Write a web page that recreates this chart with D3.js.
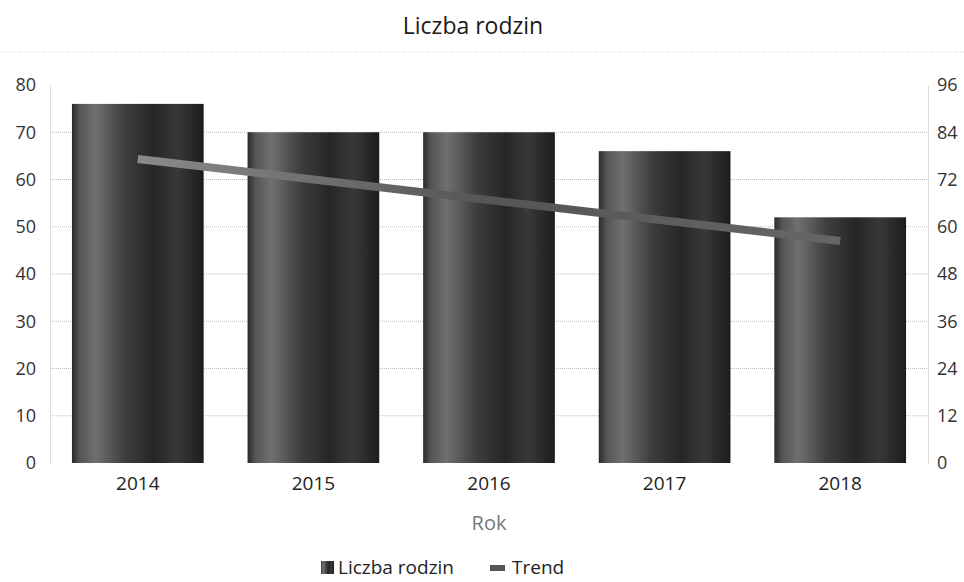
<!DOCTYPE html>
<html>
<head>
<meta charset="utf-8">
<script src="https://cdn.jsdelivr.net/npm/d3@7"></script>
<style>
  body { margin: 0; background: #fff; }
  text { font-family: "Open Sans", "Noto Sans", sans-serif; }
</style>
</head>
<body>
<div id="chart"></div>
<script>
var years = ["2014", "2015", "2016", "2017", "2018"];
var families = [76, 70, 70, 66, 52];
var trend = [77.2, 72.0, 66.8, 61.6, 56.4];   // read on right axis
var leftTicks = [0, 10, 20, 30, 40, 50, 60, 70, 80];
var rightTicks = [0, 12, 24, 36, 48, 60, 72, 84, 96];

var width = 964, height = 582;
var margin = { top: 85, right: 36, bottom: 119, left: 50 };

var svg = d3.select("#chart").append("svg")
    .attr("width", width)
    .attr("height", height);

var defs = svg.append("defs");
var grad = defs.append("linearGradient").attr("id", "barGrad")
    .attr("x1", "0").attr("x2", "1").attr("y1", "0").attr("y2", "0");
grad.append("stop").attr("offset", "0").attr("stop-color", "#2a2a2a");
grad.append("stop").attr("offset", "0.06").attr("stop-color", "#555");
grad.append("stop").attr("offset", "0.18").attr("stop-color", "#707070");
grad.append("stop").attr("offset", "0.4").attr("stop-color", "#3e3e3e");
grad.append("stop").attr("offset", "0.62").attr("stop-color", "#262626");
grad.append("stop").attr("offset", "0.8").attr("stop-color", "#383838");
grad.append("stop").attr("offset", "1").attr("stop-color", "#1c1c1c");

var lineGrad = defs.append("linearGradient").attr("id", "lineGrad")
    .attr("x1", "0").attr("x2", "1").attr("y1", "0").attr("y2", "0");
lineGrad.append("stop").attr("offset", "0").attr("stop-color", "#8a8a8a");
lineGrad.append("stop").attr("offset", "0.5").attr("stop-color", "#555");
lineGrad.append("stop").attr("offset", "1").attr("stop-color", "#666");

var x = d3.scaleBand()
    .domain(years)
    .range([margin.left, width - margin.right])
    .paddingInner(0.25)
    .paddingOuter(0.125);

var y = d3.scaleLinear()
    .domain([0, 80])
    .range([height - margin.bottom, margin.top]);

var y2 = d3.scaleLinear()
    .domain([0, 96])
    .range([height - margin.bottom, margin.top]);

// title
svg.append("text")
    .attr("x", 473)
    .attr("y", 34)
    .attr("text-anchor", "middle")
    .attr("font-size", 23)
    .attr("fill", "#1a1a1a")
    .text("Liczba rodzin");

svg.append("line")
    .attr("x1", 0).attr("x2", width)
    .attr("y1", 52).attr("y2", 52)
    .attr("stroke", "#ccc")
    .attr("stroke-dasharray", "1,2");

// grid
svg.append("g")
    .selectAll("line")
    .data(leftTicks.slice(1, -1))
    .enter().append("line")
    .attr("x1", margin.left).attr("x2", width - margin.right)
    .attr("y1", d => y(d)).attr("y2", d => y(d))
    .attr("stroke", "#bbb")
    .attr("stroke-dasharray", "1,1");

// left axis
svg.append("g")
    .attr("transform", `translate(${margin.left},0)`)
    .call(d3.axisLeft(y).tickValues(leftTicks).tickSize(0).tickPadding(14))
    .call(g => g.select(".domain").attr("stroke", "#bbb").attr("stroke-dasharray", "1,1"))
    .call(g => g.selectAll("text").attr("font-size", 18).attr("fill", "#333")
        .attr("font-family", "Open Sans, sans-serif"));

// right axis
svg.append("g")
    .attr("transform", `translate(${width - margin.right},0)`)
    .call(d3.axisRight(y2).tickValues(rightTicks).tickSize(0).tickPadding(9))
    .call(g => g.select(".domain").attr("stroke", "#bbb").attr("stroke-dasharray", "1,1"))
    .call(g => g.selectAll("text").attr("font-size", 18).attr("fill", "#333")
        .attr("font-family", "Open Sans, sans-serif"));

// bars
svg.append("g")
    .selectAll("rect")
    .data(families)
    .enter().append("rect")
    .attr("x", (d, i) => x(years[i]))
    .attr("y", d => y(d))
    .attr("width", x.bandwidth())
    .attr("height", d => y(0) - y(d))
    .attr("fill", "url(#barGrad)");

// trend line
svg.append("path")
    .datum(trend)
    .attr("fill", "none")
    .attr("stroke", "url(#lineGrad)")
    .attr("stroke-width", 8)
    .attr("d", d3.line()
        .x(function (d, i) { return x(years[i]) + x.bandwidth() / 2 })
        .y(function (d) { return y2(d) })
    );

// x axis labels
svg.append("g")
    .attr("transform", `translate(0,${y(0)})`)
    .call(d3.axisBottom(x).tickSize(0).tickPadding(14))
    .call(g => g.select(".domain").remove())
    .call(g => g.selectAll("text").attr("font-size", 19).attr("fill", "#222")
        .attr("font-family", "Open Sans, sans-serif"));

svg.append("text")
    .attr("x", 489)
    .attr("y", 530)
    .attr("text-anchor", "middle")
    .attr("font-size", 20)
    .attr("fill", "#777")
    .text("Rok");

// legend
var leg = svg.append("g");
leg.append("rect")
    .attr("x", 321).attr("y", 561)
    .attr("width", 13).attr("height", 13)
    .attr("fill", "url(#barGrad)");
leg.append("text")
    .attr("x", 338).attr("y", 574)
    .attr("font-size", 19).attr("fill", "#222")
    .text("Liczba rodzin");
leg.append("rect")
    .attr("x", 490).attr("y", 565)
    .attr("width", 15).attr("height", 6)
    .attr("fill", "#555");
leg.append("text")
    .attr("x", 512).attr("y", 574)
    .attr("font-size", 19).attr("fill", "#222")
    .text("Trend");
</script>
</body>
</html>
